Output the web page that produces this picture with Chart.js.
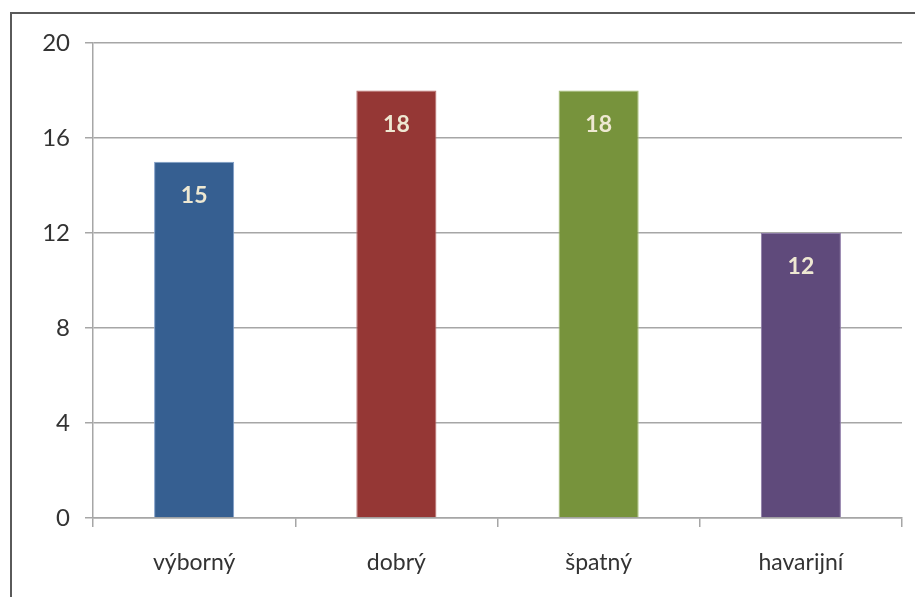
<!DOCTYPE html>
<html>
<head>
<meta charset="utf-8">
<script src="https://cdn.jsdelivr.net/npm/chart.js@4"></script>
<style>
html,body{margin:0;padding:0;background:#fff;}
#wrap{position:relative;width:915px;height:597px;}
#frame{position:absolute;left:10px;top:12px;right:0;bottom:0;border-left:2px solid #5a5a5a;border-top:2px solid #5a5a5a;pointer-events:none;}
canvas{position:absolute;left:0;top:0;}
</style>
</head>
<body>
<div id="wrap">
<canvas id="c" width="915" height="597"></canvas>
<div id="frame"></div>
</div>
<script>
const categories = ["výborný", "dobrý", "špatný", "havarijní"];
const values = [15, 18, 18, 12];
const barColors = ["#365F91", "#953735", "#77933C", "#5F4A7B"];
const barEdges = ["#7f9ec8", "#b86a68", "#a3bd72", "#8c7aa6"];
const yTicks = [0, 4, 8, 12, 16, 20];

const FONT = "Lato, 'Open Sans', sans-serif";

const labelPlugin = {
  id: 'barLabels',
  afterDatasetsDraw(chart) {
    const ctx = chart.ctx;
    const meta = chart.getDatasetMeta(0);
    ctx.save();
    ctx.fillStyle = '#EEE8D2';
    ctx.font = "bold 23px " + FONT;
    ctx.textAlign = 'center';
    ctx.textBaseline = 'middle';
    meta.data.forEach((bar, i) => {
      ctx.fillText(String(values[i]), bar.x, bar.y + 34);
    });
    ctx.restore();
  }
};

new Chart(document.getElementById('c'), {
  type: 'bar',
  data: {
    labels: categories,
    datasets: [{
      data: values,
      backgroundColor: barColors,
      borderColor: barEdges,
      borderWidth: 1,
      barPercentage: 0.8,
      categoryPercentage: 0.495
    }]
  },
  options: {
    responsive: false,
    animation: false,
    events: [],
    layout: { padding: { left: 0, right: 13, top: 43, bottom: 0 } },
    plugins: { legend: { display: false }, tooltip: { enabled: false } },
    scales: {
      x: {
        afterFit(scale) { scale.height = 79; },
        grid: { display: true, drawOnChartArea: false, drawTicks: true, tickLength: 9, color: '#a6a6a6', lineWidth: 1.5, offset: true },
        border: { display: true, color: '#a6a6a6', width: 1.5 },
        ticks: { color: '#333', font: { family: FONT, size: 23 }, padding: 22 }
      },
      y: {
        min: 0, max: 20,
        afterFit(scale) { scale.width = 93; },
        afterBuildTicks(scale) { scale.ticks = yTicks.map(v => ({ value: v })); },
        grid: { color: '#a6a6a6', lineWidth: 1.5, tickLength: 8 },
        border: { display: true, color: '#a6a6a6', width: 1.5 },
        ticks: { color: '#333', font: { family: FONT, size: 24 }, padding: 15 }
      }
    }
  },
  plugins: [labelPlugin]
});
</script>
</body>
</html>
